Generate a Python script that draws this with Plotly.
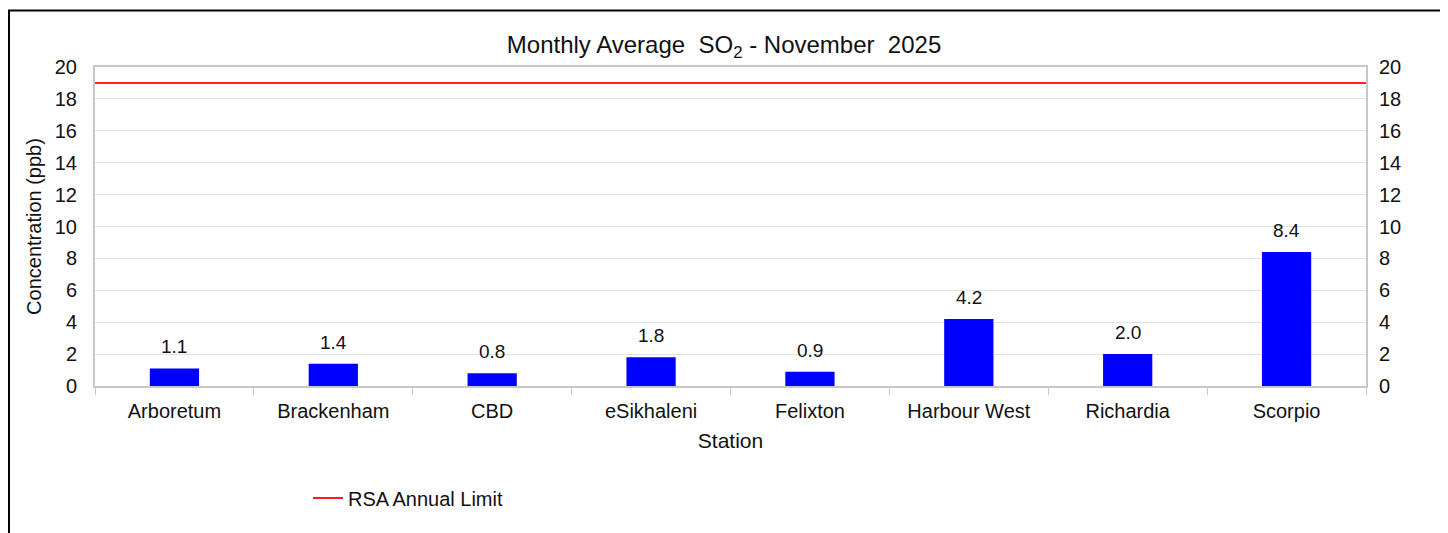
import plotly.graph_objects as go

stations = ["Arboretum", "Brackenham", "CBD", "eSikhaleni", "Felixton", "Harbour West", "Richardia", "Scorpio"]
so2_values = [1.1, 1.4, 0.8, 1.8, 0.9, 4.2, 2.0, 8.4]
annual_limit = 19
y_ticks = list(range(0, 21, 2))

FONT = "Liberation Sans, Arial, sans-serif"

fig = go.Figure()
fig.add_trace(go.Bar(
    x=stations, y=so2_values, marker=dict(color="#0000FF", line=dict(width=0)),
    width=0.31, showlegend=False, name="SO2",
))
fig.add_trace(go.Scatter(
    x=[0, 1], y=[annual_limit, annual_limit], mode="lines",
    line=dict(color="#FF2020", width=2), name="RSA Annual Limit",
    xaxis="x2", yaxis="y2",
))

for s, v in zip(stations, so2_values):
    fig.add_annotation(x=s, y=v, text=f"{v:.1f}", showarrow=False,
                       yanchor="bottom", yshift=9,
                       font=dict(family=FONT, size=19, color="#111"))

# page offset of the figure (body margin)
OFF = 8
W, H = 1440, 525
L, R, T, B = 87, 82, 59, 147
pw, ph = W - L - R, H - T - B

def px(x):
    return (x - OFF - L) / pw

def py(y):
    return (H - B - (y - OFF)) / ph

fig.add_shape(type="rect", xref="paper", yref="paper",
              x0=px(9), x1=px(1443), y0=py(560), y1=py(10.5),
              line=dict(color="#000", width=2), fillcolor="rgba(0,0,0,0)", layer="below")

fig.update_layout(
    width=W, height=H,
    margin=dict(l=L, r=R, t=T, b=B),
    paper_bgcolor="white", plot_bgcolor="white",
    font=dict(family=FONT, size=20, color="#111"),
    title=dict(text="Monthly Average  SO<sub>2</sub> - November  2025",
               x=px(727), xanchor="center", y=1 - (45 - OFF) / H, yanchor="middle",
               font=dict(family=FONT, size=24, color="#111")),
    xaxis=dict(type="category", showgrid=False, ticks="outside", tickson="boundaries",
               ticklen=7, tickcolor="#c8c8c8", showline=True, linecolor="#c8c8c8", linewidth=2,
               mirror=True, tickfont=dict(size=20), ticklabelstandoff=6,
               title=dict(text="Station", font=dict(size=21), standoff=12)),
    yaxis=dict(range=[0, 20], tickvals=y_ticks, showgrid=True, gridcolor="#e2e2e2", gridwidth=1,
               showline=True, linecolor="#c8c8c8", linewidth=2, mirror=True, ticks="",
               tickfont=dict(size=20), zeroline=False, ticklabelstandoff=12,
               title=dict(text="Concentration (ppb)", font=dict(size=20), standoff=8)),
    xaxis2=dict(overlaying="x", range=[0, 1], visible=False),
    yaxis2=dict(overlaying="y", side="right", range=[0, 20], tickvals=y_ticks,
                showgrid=False, zeroline=False, ticks="", tickfont=dict(size=20),
                ticklabelstandoff=12),
    legend=dict(orientation="h", x=px(308), xanchor="left", y=py(498), yanchor="middle",
                font=dict(family=FONT, size=20, color="#111"), bgcolor="rgba(0,0,0,0)"),
    bargap=0.69,
)

fig.write_html("out.html")
